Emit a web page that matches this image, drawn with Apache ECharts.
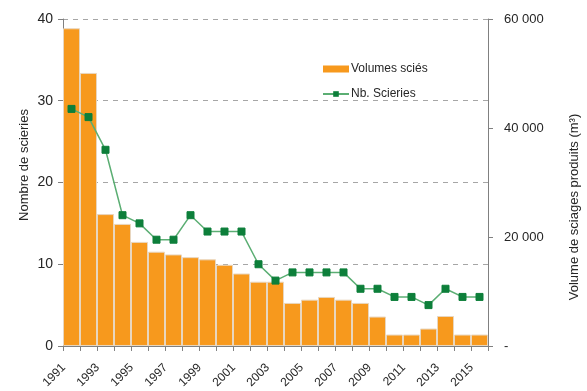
<!DOCTYPE html>
<html>
<head>
<meta charset="utf-8">
<script src="https://cdn.jsdelivr.net/npm/echarts@6/dist/echarts.min.js"></script>
<style>
  html, body { margin: 0; padding: 0; background: #fff; }
  #chart { width: 587px; height: 391px; }
</style>
</head>
<body>
<div id="chart"></div>
<script>
// Années
const years = ['1991','1992','1993','1994','1995','1996','1997','1998','1999','2000',
  '2001','2002','2003','2004','2005','2006','2007','2008','2009','2010',
  '2011','2012','2013','2014','2015'];

// Volumes sciés (m3)
const volumes = [58300, 50100, 24200, 22400, 19100, 17300, 16800, 16300, 15900, 14900,
  13300, 11800, 11800, 7900, 8500, 9000, 8500, 7900, 5400, 2100,
  2100, 3200, 5500, 2100, 2100];

// Nombre de scieries
const scieries = [29, 28, 24, 16, 15, 13, 13, 16, 14, 14,
  14, 10, 8, 9, 9, 9, 9, 7, 7, 6,
  6, 5, 7, 6, 6];

const leftTicks = { min: 0, max: 40, interval: 10 };
const rightTicks = { min: 0, max: 60000, interval: 20000 };

const FONT = 'Liberation Sans, Arial, sans-serif';
const TXT = '#262626';
const AXIS = '#808080';

function fmtVolume(v) {
  if (v === 0) return '-';
  return String(v).replace(/\B(?=(\d{3})+(?!\d))/g, ' ');
}

const chart = echarts.init(document.getElementById('chart'), null, { renderer: 'canvas' });

chart.setOption({
  animation: false,
  backgroundColor: '#fff',
  textStyle: { fontFamily: FONT },
  grid: { left: 63, right: 99, top: 19, bottom: 44, containLabel: false },
  legend: {
    orient: 'vertical',
    left: 317,
    top: 58,
    itemWidth: 26,
    itemHeight: 7,
    itemGap: 13,
    textStyle: { fontFamily: FONT, fontSize: 12, color: TXT, padding: [0, 0, 0, -3] },
    data: [
      { name: 'Volumes sciés', icon: 'rect', itemStyle: { borderWidth: 0, color: '#F7991D' } },
      { name: 'Nb. Scieries' }
    ]
  },
  xAxis: {
    type: 'category',
    data: years,
    boundaryGap: true,
    axisLine: { lineStyle: { color: AXIS, width: 1 } },
    axisTick: { show: true, interval: 0, length: 5, lineStyle: { color: AXIS } },
    axisLabel: {
      interval: 1,
      rotate: 45,
      margin: 12,
      padding: [0, 11, 0, 0],
      fontFamily: FONT,
      fontSize: 12,
      color: TXT
    },
    splitLine: { show: false }
  },
  yAxis: [
    {
      type: 'value',
      min: leftTicks.min,
      max: leftTicks.max,
      interval: leftTicks.interval,
      position: 'left',
      axisLine: { show: true, lineStyle: { color: AXIS } },
      axisTick: { show: true, length: 5, lineStyle: { color: AXIS } },
      axisLabel: { fontFamily: FONT, fontSize: 14, color: TXT, margin: 10 },
      splitLine: { show: true, lineStyle: { color: '#a6a6a6', type: [5, 5], width: 1 } }
    },
    {
      type: 'value',
      min: rightTicks.min,
      max: rightTicks.max,
      interval: rightTicks.interval,
      position: 'right',
      axisLine: { show: true, lineStyle: { color: AXIS } },
      axisTick: { show: true, length: 5, lineStyle: { color: AXIS } },
      axisLabel: {
        fontFamily: FONT, fontSize: 13, color: TXT, margin: 16,
        formatter: fmtVolume
      },
      splitLine: { show: false }
    }
  ],
  graphic: [
    {
      type: 'text',
      x: 24, y: 165,
      rotation: Math.PI / 2,
      style: {
        text: 'Nombre de scieries',
        fontFamily: FONT, fontSize: 13, fill: TXT,
        align: 'center', verticalAlign: 'middle'
      }
    },
    {
      type: 'text',
      x: 574, y: 207,
      rotation: Math.PI / 2,
      style: {
        text: 'Volume de sciages produits (m³)',
        fontFamily: FONT, fontSize: 13, fill: TXT,
        align: 'center', verticalAlign: 'middle'
      }
    }
  ],
  series: [
    {
      name: 'Volumes sciés',
      type: 'bar',
      yAxisIndex: 1,
      data: volumes,
      barCategoryGap: '0%',
      itemStyle: { color: '#F7991D', borderColor: '#e8d6bf', borderWidth: 1 },
      z: 1
    },
    {
      name: 'Nb. Scieries',
      type: 'line',
      yAxisIndex: 0,
      data: scieries,
      symbol: 'rect',
      symbolSize: 7,
      lineStyle: { color: '#5bae73', width: 1.5 },
      itemStyle: { color: '#0d7f3a', borderColor: '#0d7f3a' },
      z: 3
    }
  ]
});
</script>
</body>
</html>
